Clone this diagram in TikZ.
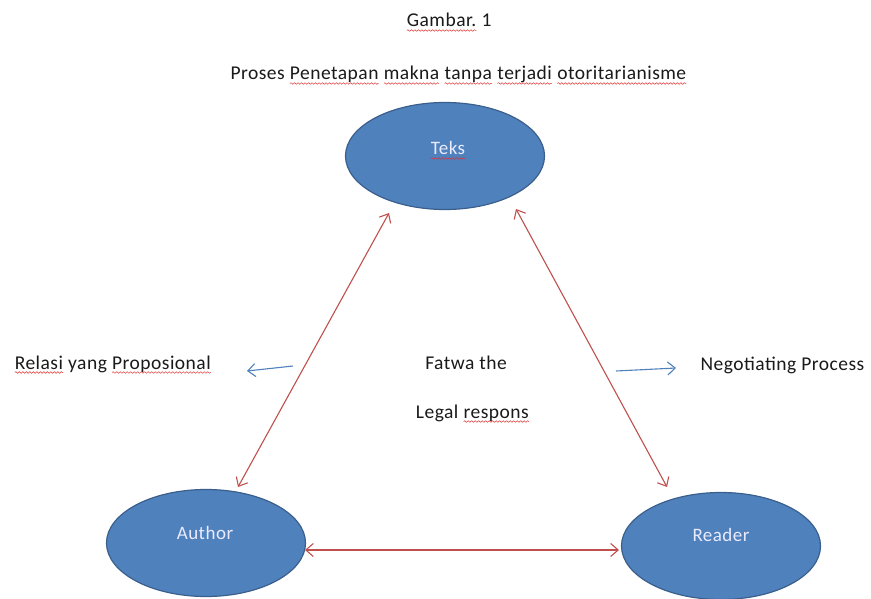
\documentclass[tikz,border=0pt]{standalone}
\usepackage{fontspec}
\setmainfont{Carlito}[LetterSpace=2.5]
\usetikzlibrary{arrows.meta,calc,shapes.geometric,decorations.pathmorphing}
\definecolor{ellfill}{HTML}{4F81BD}
\definecolor{elldraw}{HTML}{3A5F8C}
\definecolor{redline}{HTML}{C0504D}
\definecolor{blueline}{HTML}{4F81BD}
\definecolor{spellred}{HTML}{E03030}
\definecolor{txt}{HTML}{1A1A1A}
\newcommand\spell[1]{\tikz[baseline=(w.base),x=1pt,y=1pt]{\node[inner sep=0pt,outer sep=0pt,anchor=base](w) at (0,0){#1};\draw[spellred,line width=0.5pt,decorate,decoration={snake,amplitude=0.8pt,segment length=3.5pt}] ([yshift=-3.5pt]w.base west) -- ([yshift=-3.5pt]w.base east);}}
\begin{document}
\begin{tikzpicture}[x=1pt,y=-1pt,
  ell/.style={ellipse,draw=elldraw,fill=ellfill,line width=1.2pt,minimum width=199pt,minimum height=107pt,inner sep=0pt},
  etext/.style={text=white!92!blue,font=\fontsize{19}{22}\selectfont,anchor=base},
  lab/.style={text=txt,font=\fontsize{19.5}{22}\selectfont,anchor=base},
  redarr/.style={draw=redline,line width=1.1pt,{Straight Barb[length=7.5pt,width=13pt]}-{Straight Barb[length=7.5pt,width=13pt]}},
  bluearr/.style={draw=blueline,line width=1.1pt,-{Straight Barb[length=7.5pt,width=13pt]}}]
\useasboundingbox (0,0) rectangle (871,599);
\fill[white] (0,0) rectangle (871,599);
% ellipses
\node[ell] (teks) at (445,156) {};
\node[ell] (author) at (206,543) {};
\node[ell] (reader) at (721,546) {};
\node[etext] (teksl) at (448,155) {\spell{Teks}};
\node[etext] (authorl) at (205,539) {Author};
\node[etext] (readerl) at (721,541) {Reader};
% titles
\node[lab] (title1) at (449,27) {\spell{Gambar.} 1};
\node[lab] (title2) at (458.5,80) {Proses \spell{Penetapan} \spell{makna} \spell{tanpa} \spell{terjadi} \spell{otoritarianisme}};
\node[lab,anchor=base west] (relasi) at (11,369) {\spell{Relasi} yang \spell{Proposional}};
\node[lab] (fatwa) at (466,369) {Fatwa the};
\node[lab] (legal) at (472.5,418) {Legal \spell{respons}};
\node[lab,anchor=base west] (nego) at (697,370) {Negotiating Process};
% connector end points
\coordinate (tl) at ($(teks.center)+(-56,57)$);
\coordinate (tr) at ($(teks.center)+(71,53)$);
\coordinate (at) at ($(author.center)+(32,-56)$);
\coordinate (ae) at ($(author.center)+(99,7)$);
\coordinate (rt) at ($(reader.center)+(-54,-59)$);
\coordinate (rw) at ($(reader.center)+(-102,4)$);
\draw[redarr] (tl) -- (at);
\draw[redarr] (tr) -- (rt);
\draw[redarr] (ae) -- (rw);
% blue arrows
\coordinate (b1s) at (293,366);
\coordinate (b1e) at (247,371);
\coordinate (b2s) at (616,371);
\coordinate (b2e) at (676,368);
\draw[bluearr] (b1s) -- (b1e);
\draw[bluearr] (b2s) -- (b2e);
\end{tikzpicture}
\end{document}
